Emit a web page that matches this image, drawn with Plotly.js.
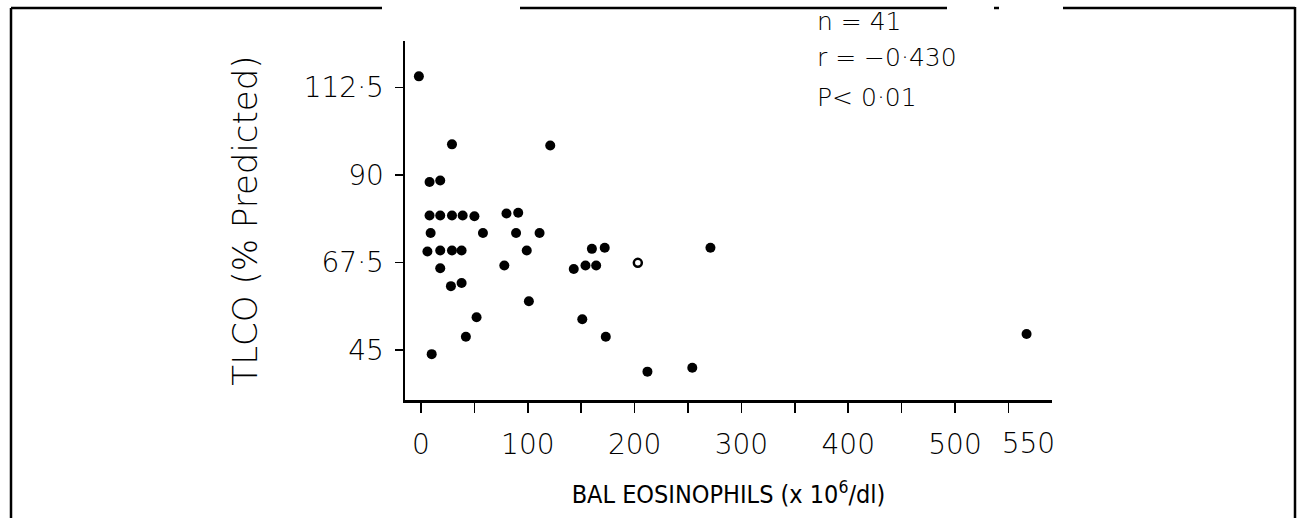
<!DOCTYPE html>
<html>
<head>
<meta charset="utf-8">
<script src="https://cdn.plot.ly/plotly-3.0.1.min.js"></script>
<style>
html,body{margin:0;padding:0;background:#fff;}
#wrap{position:relative;width:1300px;height:518px;}
#chart{position:absolute;left:0;top:0;width:1300px;height:518px;}
#frame{position:absolute;left:0;top:0;pointer-events:none;}
</style>
</head>
<body>
<div id="wrap">
<div id="chart"></div>
<svg id="frame" width="1300" height="518"></svg>
</div>
<script>
// BAL eosinophils (x10^6/dl) and TLCO (% predicted)
const eosFilled = [-2, 29, 121, 8, 18,
  8, 18, 29, 39, 50,
  80, 91,
  9, 58, 89, 111,
  6, 18, 29, 38, 99,
  160, 172,
  18, 78, 143, 154, 164,
  28, 38, 101, 52, 151, 42, 173, 10, 212, 254, 271, 567];
const tlcoFilled = [115.4, 97.9, 97.6, 88.2, 88.6,
  79.6, 79.6, 79.6, 79.6, 79.4,
  80.1, 80.3,
  75.1, 75.1, 75.1, 75.1,
  70.3, 70.6, 70.6, 70.6, 70.6,
  71.0, 71.3,
  66.0, 66.7, 65.8, 66.7, 66.7,
  61.4, 62.2, 57.5, 53.4, 52.9, 48.4, 48.4, 43.9, 39.4, 40.4, 71.3, 49.1];
const eosOpen = [203];
const tlcoOpen = [67.4];

const xTickVals = [0, 50, 100, 150, 200, 250, 300, 350, 400, 450, 500, 550];
const xTickText = ['0', ' ', '100', ' ', '200', ' ', '300', ' ', '400', ' ', '500', ' '];
const xLastTickVal = [550];
const xLastTickText = ['550'];
const yTickVals = [45, 67.5, 90, 112.5];
const yTickText = ['45', '67·5', '90', '112·5'];
const statsLines = ['n = 41', 'r = −0·430', 'P< 0·01'];

const xTitle = 'BAL EOSINOPHILS (x 10<sup>6</sup>/dl)';
const yTitle = 'TLCO (% Predicted)';

// plot-area geometry (pixels)
const L = 405, R = 1052, T = 41, B = 400;
const px = x => (x - L) / (R - L);
const py = y => (B - y) / (B - T);
const xRange = [-15, 590.8];

const tickFont = {family: 'DejaVu Sans, Liberation Sans, sans-serif', size: 28, color: '#000', weight: 300};

const traces = [
  {x: eosFilled, y: tlcoFilled, mode: 'markers', type: 'scatter',
   marker: {symbol: 'circle', size: 10, color: '#000'}, cliponaxis: false, hoverinfo: 'skip'},
  {x: eosOpen, y: tlcoOpen, mode: 'markers', type: 'scatter',
   marker: {symbol: 'circle-open', size: 8, color: '#000', line: {width: 2.5, color: '#000'}}, hoverinfo: 'skip'},
  // carrier for the offset "550" label axis (no marks)
  {x: [], y: [], xaxis: 'x2', yaxis: 'y', mode: 'markers', type: 'scatter', hoverinfo: 'skip'}
];

const statsY = [22, 57, 97];
const annotations = statsLines.map((t, i) => ({
  text: t, xref: 'paper', yref: 'paper', x: px(815), y: py(statsY[i]),
  xanchor: 'left', yanchor: 'middle', showarrow: false,
  font: {family: 'DejaVu Sans, sans-serif', size: 25, color: '#000', weight: 300}
}));

const layout = {
  width: 1300, height: 518,
  margin: {l: L, r: 1300 - R, t: T, b: 518 - B, pad: 0},
  paper_bgcolor: '#fff', plot_bgcolor: '#fff',
  showlegend: false,
  xaxis: {
    range: xRange, showgrid: false, zeroline: false,
    showline: true, linecolor: '#000', linewidth: 2.5,
    tickmode: 'array', tickvals: xTickVals, ticktext: xTickText, tickangle: 0,
    ticks: 'outside', ticklen: 10, tickwidth: 1.5, tickcolor: '#000',
    ticklabelstandoff: 8,
    tickfont: tickFont,
    title: {text: xTitle, standoff: 26,
      font: {family: 'DejaVu Sans Condensed, DejaVu Sans, sans-serif', size: 25, color: '#000', weight: 300}}
  },
  xaxis2: {
    overlaying: 'x', anchor: 'y', side: 'bottom',
    range: xRange, showgrid: false, zeroline: false, showline: false,
    tickmode: 'array', tickvals: xLastTickVal, ticktext: xLastTickText, tickangle: 0,
    ticks: 'outside', ticklen: 10, tickwidth: 0, tickcolor: 'rgba(0,0,0,0)',
    ticklabelstandoff: 8, ticklabelshift: 20,
    tickfont: tickFont
  },
  yaxis: {
    range: [32.1, 124.5], showgrid: false, zeroline: false,
    showline: true, linecolor: '#000', linewidth: 2.5,
    tickmode: 'array', tickvals: yTickVals, ticktext: yTickText, tickangle: 0,
    ticks: 'outside', ticklen: 8, tickwidth: 1.5, tickcolor: '#000',
    ticklabelstandoff: 5,
    tickfont: tickFont,
    title: {text: yTitle, standoff: 36,
      font: {family: 'DejaVu Sans, sans-serif', size: 34, color: '#000', weight: 300}}
  },
  annotations: annotations
};

Plotly.newPlot('chart', traces, layout, {staticPlot: true, displayModeBar: false});

// scanned page frame (decoration)
const frameLines = [[11, 8, 382, 8], [520, 8, 947, 8], [994, 8, 999, 8], [1063, 8, 1295, 8],
                    [11, 8, 11, 518], [1295, 7, 1295, 518]];
const svg = document.getElementById('frame');
frameLines.forEach(f => {
  const ln = document.createElementNS('http://www.w3.org/2000/svg', 'line');
  ln.setAttribute('x1', f[0]); ln.setAttribute('y1', f[1]);
  ln.setAttribute('x2', f[2]); ln.setAttribute('y2', f[3]);
  ln.setAttribute('stroke', '#000'); ln.setAttribute('stroke-width', '2.5');
  svg.appendChild(ln);
});
</script>
</body>
</html>
